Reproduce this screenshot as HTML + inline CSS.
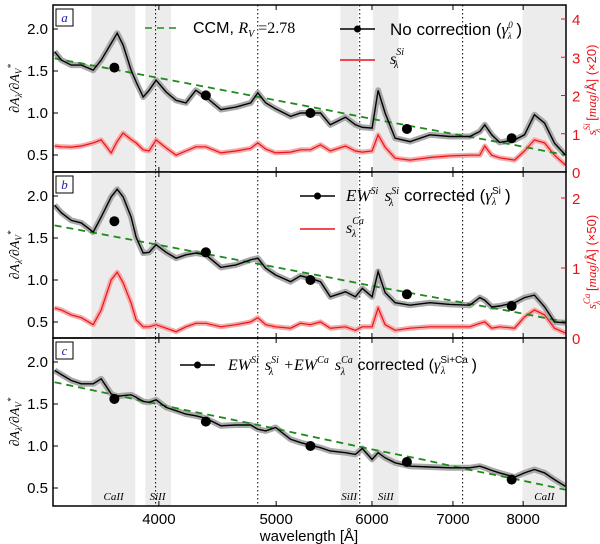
<!DOCTYPE html>
<html><head><meta charset="utf-8"><style>
body{margin:0;background:#fff;width:600px;height:544px;overflow:hidden}
svg{display:block;font-family:"Liberation Sans","DejaVu Sans",sans-serif}
.m{font-family:"Liberation Serif","DejaVu Serif",serif;font-style:italic}
</style></head><body>
<svg id="chart" width="600" height="544" viewBox="0 0 600 544" xmlns="http://www.w3.org/2000/svg"></svg>
<script>
// ---- data ----
const wave = [3280,3323,3386,3451,3530,3584,3653,3695,3737,3794,3830,3882,3926,3979,4055,4133,4211,4291,4374,4501,4631,4764,4828,4902,4995,5139,5237,5337,5440,5543,5705,5814,5891,6002,6071,6152,6270,6450,6699,6958,7228,7367,7437,7535,7650,7871,8021,8174,8333,8492,8670];
const blackA = [1.73,1.63,1.57,1.57,1.51,1.63,1.83,1.95,1.81,1.51,1.37,1.19,1.27,1.39,1.25,1.15,1.12,1.27,1.19,1.04,1.07,1.12,1.24,1.12,1.05,0.96,1.0,1.0,1.0,0.86,0.95,0.86,0.83,0.82,1.27,1.0,0.70,0.66,0.74,0.72,0.72,0.78,0.86,0.74,0.65,0.68,0.74,0.98,0.88,0.64,0.5];
const redA = [0.68,0.66,0.65,0.68,0.76,0.84,0.50,0.80,1.02,0.85,0.76,0.58,0.55,0.84,0.63,0.44,0.55,0.66,0.66,0.50,0.55,0.62,0.76,0.60,0.50,0.52,0.58,0.58,0.71,0.55,0.68,0.55,0.52,0.55,0.97,0.65,0.36,0.31,0.38,0.42,0.44,0.44,0.68,0.44,0.37,0.31,0.55,0.84,0.76,0.44,0.18];
const blackB = [1.89,1.80,1.71,1.68,1.57,1.75,1.99,2.08,1.99,1.75,1.51,1.32,1.33,1.42,1.33,1.26,1.30,1.32,1.30,1.15,1.18,1.24,1.26,1.14,1.06,0.98,1.05,1.02,0.98,0.80,0.86,0.80,0.90,0.80,1.10,0.85,0.73,0.70,0.73,0.71,0.70,0.79,0.76,0.68,0.69,0.73,0.79,0.82,0.68,0.50,0.49];
const redB = [0.43,0.40,0.33,0.29,0.19,0.40,0.83,0.94,0.79,0.50,0.26,0.16,0.16,0.19,0.14,0.09,0.16,0.21,0.21,0.16,0.19,0.23,0.29,0.19,0.16,0.14,0.21,0.19,0.23,0.14,0.16,0.11,0.16,0.16,0.43,0.19,0.11,0.14,0.16,0.16,0.16,0.21,0.23,0.14,0.16,0.14,0.30,0.40,0.33,0.14,0.07];
const blackC = [1.90,1.85,1.78,1.74,1.74,1.80,1.62,1.59,1.60,1.61,1.58,1.53,1.52,1.55,1.46,1.42,1.38,1.36,1.33,1.24,1.25,1.25,1.20,1.18,1.22,1.08,1.04,1.01,0.98,0.94,0.92,0.90,0.97,0.84,0.92,0.86,0.80,0.76,0.75,0.74,0.74,0.76,0.74,0.71,0.68,0.63,0.68,0.72,0.68,0.60,0.52];
const ccmWave = [3280,3700,4200,4800,5400,6000,6600,7200,7800,8670];
const ccmAB = [1.65,1.51,1.36,1.20,1.06,0.93,0.82,0.72,0.63,0.50];
const ccmC = [1.76,1.60,1.43,1.26,1.10,0.96,0.84,0.72,0.62,0.48];
const dotWave = [3675,4374,5337,6413,7827];
const dotsA = [1.54,1.21,1.0,0.81,0.70];
const dotsB = [1.70,1.33,1.0,0.83,0.69];
const dotsC = [1.56,1.29,1.0,0.81,0.60];
const xTicks = [4000,5000,6000,7000,8000];
const yTicks = [0.5,1.0,1.5,2.0];
const rTicksA = [0,1,2,3,4];
const rTicksB = [0,1,2];
const bands = [[3518,3824],[3899,4094],[5650,5843],[6010,6312],[7990,8670]];
const vlines = [3975,4828,5862,7130];
const bandLabels = [["CaII",3670],["SiII",3990],["SiII",5745],["SiII",6160],["CaII",8330]];

// ---- layout ----
const L=53,R=566,LW0=Math.log10(3270),LW1=Math.log10(8680);
const x=w=>L+(Math.log10(w)-LW0)/(LW1-LW0)*(R-L);
const panels=[{top:5,bot:172,name:'a'},{top:172,bot:338,name:'b'},{top:338,bot:506,name:'c'}];
const yF=(p)=>v=>p.top+24+(2.0-v)*84;
const svg=document.getElementById('chart');
const NS='http://www.w3.org/2000/svg';
function mk(tag,attrs,parent){const e=document.createElementNS(NS,tag);for(const k in attrs)e.setAttribute(k,attrs[k]);(parent||svg).appendChild(e);return e;}
function path(xs,ys,fx,fy){return xs.map((w,i)=>(i?'L':'M')+fx(w).toFixed(1)+','+fy(ys[i]).toFixed(1)).join('');}

panels.forEach((p,pi)=>{
  const g=mk('g',{});
  
  
  const y=yF(p);
  const clipId='clip'+pi;
  const cp=mk('clipPath',{id:clipId},g);mk('rect',{x:L,y:p.top,width:R-L,height:p.bot-p.top},cp);
  const inner=mk('g',{'clip-path':'url(#'+clipId+')'},g);
  bands.forEach(b=>{const r=mk('rect',{x:x(b[0]),y:p.top,width:x(b[1])-x(b[0]),height:p.bot-p.top,fill:'#ececec'},inner);
    });
  vlines.forEach(w=>{const l=mk('line',{x1:x(w),x2:x(w),y1:p.top,y2:p.bot,stroke:'#000','stroke-width':1,'stroke-dasharray':'1.5,2.5'},inner);
    });
  let red=null, rF=null;
  if(pi===0){red=redA;rF=v=>172-v*38.25;}
  if(pi===1){red=redB;rF=v=>338-v*70;}
  if(red){
    mk('path',{d:path(wave,red,x,rF),fill:'none',stroke:'#f7a8a8','stroke-width':5,'stroke-linejoin':'round'},inner);
    const rp=mk('path',{d:path(wave,red,x,rF),fill:'none',stroke:'#e8141a','stroke-width':1.2},inner);
    
  }
  const blk=[blackA,blackB,blackC][pi];
  mk('path',{d:path(wave,blk,x,y),fill:'none',stroke:'#a9a9a9','stroke-width':6,'stroke-linejoin':'round'},inner);
  const ccm=pi===2?ccmC:ccmAB;
  const cl=mk('path',{d:path(ccmWave,ccm,x,y),fill:'none',stroke:'#1e8a1e','stroke-width':1.8,'stroke-dasharray':'7,5'},inner);
  
  const bp=mk('path',{d:path(wave,blk,x,y),fill:'none',stroke:'#000','stroke-width':1.4},inner);
  
  const dots=[dotsA,dotsB,dotsC][pi];
  dotWave.forEach((w,i)=>{const c=mk('circle',{cx:x(w),cy:y(dots[i]),r:5,fill:'#000'},inner);
    });
  mk('rect',{x:L,y:p.top,width:R-L,height:p.bot-p.top,fill:'none',stroke:'#000','stroke-width':1.5},g);
  xTicks.forEach(w=>{mk('line',{x1:x(w),x2:x(w),y1:p.bot,y2:p.bot-5,stroke:'#000'},g);mk('line',{x1:x(w),x2:x(w),y1:p.top,y2:p.top+5,stroke:'#000'},g);});
  yTicks.forEach(v=>{mk('line',{x1:L,x2:L+5,y1:y(v),y2:y(v),stroke:'#000'},g);
    const t=mk('text',{x:L-5,y:y(v)+5,'text-anchor':'end','font-size':15},g);t.textContent=v.toFixed(1);
    });
  if(red){
    const rt=pi===0?rTicksA:rTicksB;
    rt.forEach(v=>{mk('line',{x1:R,x2:R-5,y1:rF(v),y2:rF(v),stroke:'#e8141a'},g);
      const t=mk('text',{x:R+6,y:rF(v)+6,'font-size':15,fill:'#e8141a'},g);t.textContent=v;
      });
  }
  mk('rect',{x:L+3,y:p.top+4,width:17,height:17,fill:'#fff',stroke:'#000'},g);
  const tg=mk('text',{x:L+11.5,y:p.top+17,'text-anchor':'middle','font-size':13,fill:'#1a1aa8',class:'m'},g);tg.textContent=p.name;
  
  const yl=mk('text',{transform:`translate(19,${(p.top+p.bot)/2}) rotate(-90)`,'text-anchor':'middle','font-size':14,class:'m'},g);
  yl.innerHTML='∂A<tspan font-size="9" dy="3">λ</tspan><tspan dy="-3">/∂A</tspan><tspan font-size="9" dy="3">V</tspan><tspan font-size="9" dy="-8">*</tspan>';
  
});
xTicks.forEach(w=>{const t=mk('text',{x:x(w),y:524,'text-anchor':'middle','font-size':15});t.textContent=w;
  });
const xl=mk('text',{x:309,y:541,'text-anchor':'middle','font-size':15});xl.textContent='wavelength [Å]';

bandLabels.forEach(b=>{const t=mk('text',{x:x(b[1]),y:500,'text-anchor':'middle','font-size':11,class:'m'});t.textContent=b[0];
  });
const ra=mk('text',{transform:'translate(596,90) rotate(-90)','text-anchor':'middle','font-size':13,fill:'#e8141a'});
ra.innerHTML='<tspan class="m">s</tspan><tspan class="m" font-size="9" dy="-6">Si</tspan><tspan class="m" font-size="9" dx="-9" dy="10">λ</tspan><tspan dx="4" dy="-4"> [</tspan><tspan class="m">mag</tspan>/Å] (×20)';

const rb=mk('text',{transform:'translate(596,262) rotate(-90)','text-anchor':'middle','font-size':13,fill:'#e8141a'});
rb.innerHTML='<tspan class="m">s</tspan><tspan class="m" font-size="9" dy="-6">Ca</tspan><tspan class="m" font-size="9" dx="-11" dy="10">λ</tspan><tspan dx="6" dy="-4"> [</tspan><tspan class="m">mag</tspan>/Å] (×50)';

function legLine(x1,y,color,dot,dash,name){const g=mk('g',{});
  mk('line',{x1:x1,x2:x1+35,y1:y,y2:y,stroke:color,'stroke-width':1.5,'stroke-dasharray':dash||''},g);
  if(dot)mk('circle',{cx:x1+17.5,cy:y,r:3.5,fill:'#000'},g);}
legLine(145,28,'#1e8a1e',false,'7,5','legend-ccm');
let t=mk('text',{x:193,y:33,'font-size':16});t.innerHTML='CCM, <tspan class="m">R</tspan><tspan class="m" font-size="10" dy="4">V</tspan><tspan dy="-4" font-family="Liberation Serif"> =2.78</tspan>';

legLine(340,29,'#000',true,'','legend-no-correction');
t=mk('text',{x:390,y:35,'font-size':17});t.innerHTML='No correction (<tspan class="m">γ</tspan><tspan class="m" font-size="9" dy="-7">0</tspan><tspan class="m" font-size="9" dx="-5" dy="11">λ</tspan><tspan dy="-4"> )</tspan>';

legLine(340,60,'#e8141a',false,'','legend-s-si');
t=mk('text',{x:390,y:64,'font-size':16,class:'m'});t.innerHTML='s<tspan font-size="10" dy="-9">Si</tspan><tspan font-size="10" dx="-10" dy="13">λ</tspan>';

legLine(300,196,'#000',true,'','legend-si-corrected');
t=mk('text',{x:346,y:201,'font-size':17});t.innerHTML='<tspan class="m">EW</tspan><tspan class="m" font-size="10" dy="-7">Si</tspan><tspan class="m" dx="2" dy="7"> s</tspan><tspan class="m" font-size="10" dy="-7">Si</tspan><tspan class="m" font-size="10" dx="-10" dy="12">λ</tspan><tspan dx="6" dy="-5"> corrected (</tspan><tspan class="m">γ</tspan><tspan font-size="10" dy="-7">Si</tspan><tspan class="m" font-size="10" dx="-9" dy="11">λ</tspan><tspan dx="4" dy="-4"> )</tspan>';

legLine(300,229,'#e8141a',false,'','legend-s-ca');
t=mk('text',{x:346,y:233,'font-size':16,class:'m'});t.innerHTML='s<tspan font-size="10" dy="-9">Ca</tspan><tspan font-size="10" dx="-12" dy="13">λ</tspan>';

legLine(180,365,'#000',true,'','legend-si-ca-corrected');
t=mk('text',{x:228,y:370,'font-size':16});t.innerHTML='<tspan class="m">EW</tspan><tspan class="m" font-size="10" dy="-7">Si</tspan><tspan class="m" dx="2" dy="7"> s</tspan><tspan class="m" font-size="10" dy="-7">Si</tspan><tspan class="m" font-size="10" dx="-10" dy="12">λ</tspan><tspan class="m" dx="6" dy="-5"> +EW</tspan><tspan class="m" font-size="10" dy="-7">Ca</tspan><tspan class="m" dx="2" dy="7"> s</tspan><tspan class="m" font-size="10" dy="-7">Ca</tspan><tspan class="m" font-size="10" dx="-12" dy="12">λ</tspan><tspan dx="8" dy="-5"> corrected (</tspan><tspan class="m">γ</tspan><tspan font-size="10" dy="-7">Si+Ca</tspan><tspan class="m" font-size="10" dx="-27" dy="11">λ</tspan><tspan dx="22" dy="-4"> )</tspan>';

</script>
</body></html>
